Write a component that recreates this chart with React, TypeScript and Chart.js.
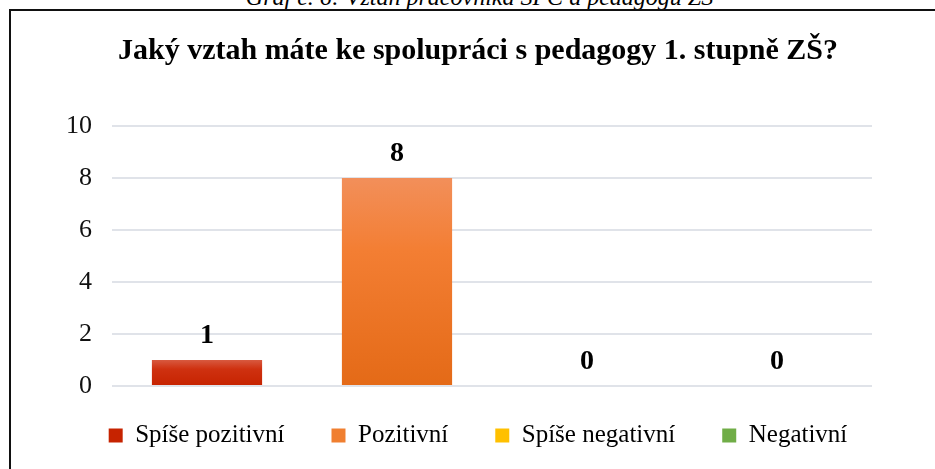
import React, { useEffect, useRef } from "react";
import { Chart, registerables } from "chart.js";

Chart.register(...registerables);

const CAPTION = "Graf č. 6: Vztah pracovníka SPC a pedagogů ZŠ";
const TITLE = "Jaký vztah máte ke spolupráci s pedagogy 1. stupně ZŠ?";
const categories = ["Spíše pozitivní", "Pozitivní", "Spíše negativní", "Negativní"];
const counts = [1, 8, 0, 0];
const seriesColors = ["#cc2a06", "#f07f30", "#ffc000", "#70ad47"];
const gradientTops = ["#d8593f", "#f28f5a", "#ffd040", "#85bd5f"];
const gradientMids = ["#cf3110", "#f37e33", "#ffc000", "#70ad47"];
const gradientBottoms = ["#c62300", "#e46a17", "#f0b000", "#5f9a3a"];
const yMin = 0;
const yMax = 10;
const yStep = 2;

const SERIF = "'Times New Roman', 'Liberation Serif', serif";

const valueLabels = {
  id: "valueLabels",
  afterDatasetsDraw(chart: any) {
    const ctx = chart.ctx;
    ctx.save();
    ctx.font = `bold 28px ${SERIF}`;
    ctx.fillStyle = "#000";
    ctx.textAlign = "center";
    ctx.textBaseline = "alphabetic";
    chart.data.datasets.forEach((ds: any, di: number) => {
      const meta = chart.getDatasetMeta(di);
      meta.data.forEach((el: any, i: number) => {
        const v = ds.data[i];
        if (v === null || v === undefined) return;
        ctx.fillText(String(v), el.x, el.y - 17);
      });
    });
    ctx.restore();
  },
};

const legendShift = {
  id: "legendShift",
  afterLayout(chart: any) {
    const lg = chart.legend;
    if (lg) {
      lg.top -= 10;
      lg.bottom -= 10;
    }
  },
};

export default function App() {
  const ref = useRef<HTMLCanvasElement>(null);

  useEffect(() => {
    if (!ref.current) return;
    const datasets = categories.map((c, i) => ({
      label: c,
      data: categories.map((_, j) => (j === i ? counts[i] : null)),
      backgroundColor: (ctx: any) => {
        if (ctx.type !== "data") return seriesColors[i];
        const chart = ctx.chart;
        const ys = chart.scales && chart.scales.y;
        if (!ys || !ctx.parsed || ctx.parsed.y == null) return seriesColors[i];
        const top = ys.getPixelForValue(ctx.parsed.y);
        const base = ys.getPixelForValue(0);
        if (!(base - top > 1)) return seriesColors[i];
        const g = chart.ctx.createLinearGradient(0, top, 0, base);
        g.addColorStop(0, gradientTops[i]);
        g.addColorStop(0.35, gradientMids[i]);
        g.addColorStop(1, gradientBottoms[i]);
        return g;
      },
      borderWidth: 0,
      categoryPercentage: 1,
      barPercentage: 0.58,
      yAxisID: "y",
    }));

    const chart = new Chart(ref.current, {
      type: "bar",
      data: { labels: categories, datasets },
      options: {
        animation: false,
        responsive: false,
        maintainAspectRatio: false,
        skipNull: true,
        layout: { padding: { left: 19, right: 17, top: 0, bottom: 0 } },
        plugins: {
          title: {
            display: true,
            text: TITLE,
            color: "#000",
            font: { family: SERIF, size: 30, weight: "bold" },
            padding: { top: 22, bottom: 57 },
          },
          legend: {
            display: true,
            position: "bottom",
            labels: {
              color: "#000",
              font: { family: SERIF, size: 25 },
              boxWidth: 14,
              boxHeight: 14,
              padding: 47,
            },
          },
          tooltip: { enabled: false },
        },
        scales: {
          x: { display: false },
          y: {
            type: "linear",
            position: "left",
            min: yMin,
            max: yMax,
            ticks: {
              stepSize: yStep,
              color: "#111",
              font: { family: SERIF, size: 26 },
              padding: 20,
            },
            grid: { color: "#e0e3e9", lineWidth: 2, drawTicks: false },
            border: { display: false },
            afterFit: (scale: any) => {
              scale.width = 82;
            },
          },
          y2: {
            type: "linear",
            position: "right",
            display: true,
            min: yMin,
            max: yMax,
            ticks: { display: false },
            grid: { display: false, drawTicks: false },
            border: { display: false },
            afterFit: (scale: any) => {
              scale.width = 54;
            },
          },
        },
      } as any,
      plugins: [valueLabels, legendShift],
    });
    return () => chart.destroy();
  }, []);

  return (
    <div
      style={{
        position: "fixed",
        left: 0,
        top: 0,
        width: 935,
        height: 469,
        overflow: "hidden",
        background: "#fff",
      }}
    >
      <div
        style={{
          position: "absolute",
          left: 0,
          top: -15,
          width: 959,
          textAlign: "center",
          fontFamily: SERIF,
          fontStyle: "italic",
          fontSize: 24,
          lineHeight: "24px",
          color: "#000",
          whiteSpace: "nowrap",
        }}
      >
        {CAPTION}
      </div>
      <div
        style={{
          position: "absolute",
          left: 9,
          top: 9,
          width: 932,
          height: 480,
          borderTop: "2px solid #111",
          borderLeft: "2px solid #111",
          borderRight: "2px solid #111",
          borderBottom: "2px solid #111",
        }}
      >
        <canvas ref={ref} width={932} height={457} style={{ display: "block" }} />
      </div>
    </div>
  );
}
